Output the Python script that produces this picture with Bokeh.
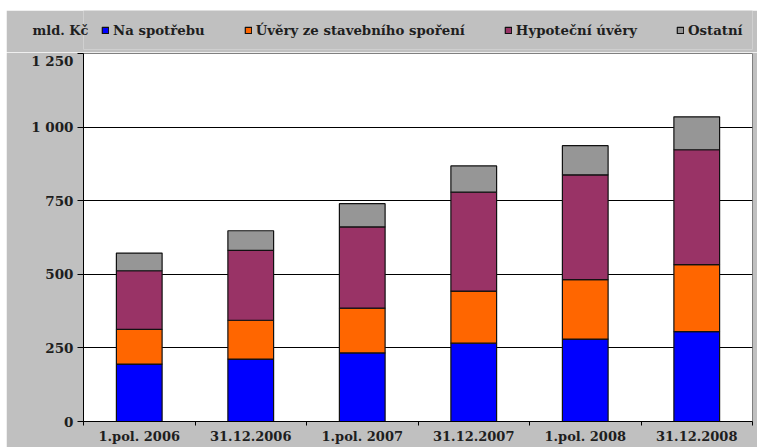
from bokeh.plotting import figure
from bokeh.models import ColumnDataSource, FixedTicker, Spacer, Range1d, Legend, LegendItem, LinearAxis
from bokeh.layouts import column, row
from bokeh.embed import file_html
from bokeh.resources import INLINE

categories = ["1.pol. 2006", "31.12.2006", "1.pol. 2007", "31.12.2007", "1.pol. 2008", "31.12.2008"]
na_spotrebu = [195, 212, 233, 266, 280, 305]
uvery_ss = [118, 132, 152, 177, 202, 228]
hypotecni = [199, 237, 276, 336, 356, 390]
ostatni = [60, 67, 79, 89, 99, 112]
series_names = ["Na spotřebu", "Úvěry ze stavebního spoření", "Hypoteční úvěry", "Ostatní"]
series_colors = ["#0000FF", "#FF6600", "#993366", "#969696"]
y_ticks = [0, 250, 500, 750, 1000, 1250]
y_tick_labels = ["0", "250", "500", "750", "1 000", "1 250"]
unit_label = "mld. Kč"

FONT = "DejaVu Serif"
TXT = "#1e1e1e"
BG = "#C0C0C0"
EDGE = "#111111"
FS = "13px"

xs = [i + 0.5 for i in range(len(categories))]
keys = ["s0", "s1", "s2", "s3"]
src = ColumnDataSource(dict(x=xs, s0=na_spotrebu, s1=uvery_ss, s2=hypotecni, s3=ostatni))

# ---- header strip: unit label + legend ----
hdr = figure(width=751, height=42, output_backend="svg", toolbar_location=None,
             x_axis_type=None, y_axis_type=None,
             x_range=Range1d(0, 1), y_range=Range1d(0, 1),
             min_border_left=77, min_border_right=5, min_border_top=0, min_border_bottom=3)
hdr.background_fill_color = BG
hdr.border_fill_color = BG
hdr.outline_line_color = None
hdr.grid.visible = False

unit_axis = LinearAxis(ticker=FixedTicker(ticks=[0.5]), major_label_overrides={0.5: unit_label},
                       axis_line_color=None, major_tick_line_color=None, minor_tick_line_color=None,
                       major_tick_out=0, major_tick_in=0, major_label_standoff=-5,
                       major_label_text_font=FONT, major_label_text_font_style="bold",
                       major_label_text_font_size=FS, major_label_text_color=TXT)
hdr.add_layout(unit_axis, "left")

key_renderers = hdr.vbar_stack(keys, x="x", width=0.41, source=src, fill_color=series_colors,
                               line_color=EDGE, line_width=1.2)
items = []
for name, r in zip(series_names, key_renderers):
    r.visible = False
    items.append(LegendItem(label=name, renderers=[r]))

lg = Legend(items=items, orientation="horizontal", location=(18, 9),
            background_fill_alpha=0, border_line_alpha=0, padding=0, margin=0,
            spacing=39, glyph_width=8, glyph_height=8, label_standoff=4, label_height=20,
            label_text_font=FONT, label_text_font_style="bold", label_text_font_size="13.3px",
            label_text_color=TXT)
hdr.add_layout(lg)

# ---- main chart ----
p = figure(width=751, height=395, output_backend="svg", toolbar_location=None,
           x_range=Range1d(0, len(categories)), y_range=Range1d(y_ticks[0], y_ticks[-1]),
           min_border_left=77, min_border_right=5, min_border_top=1, min_border_bottom=26)
p.background_fill_color = "white"
p.border_fill_color = BG
p.outline_line_color = "#808080"
p.outline_line_width = 1

p.vbar_stack(keys, x="x", width=0.41, source=src, fill_color=series_colors,
             line_color=EDGE, line_width=1.2)

yax = p.yaxis[0]
yax.ticker = FixedTicker(ticks=y_ticks)
yax.major_label_overrides = {t: l for t, l in zip(y_ticks, y_tick_labels)}
yax.major_tick_out = 6
yax.major_tick_in = 0
yax.minor_tick_line_color = None
yax.axis_line_color = "black"
yax.major_tick_line_color = "black"
yax.major_label_text_font = FONT
yax.major_label_text_font_style = "bold"
yax.major_label_text_font_size = "13.5px"
yax.major_label_text_color = TXT
yax.major_label_standoff = 4

xax = p.xaxis[0]
xax.ticker = FixedTicker(ticks=xs, minor_ticks=list(range(len(categories) + 1)))
xax.major_label_overrides = {x: c for x, c in zip(xs, categories)}
xax.major_tick_out = 0
xax.major_tick_in = 0
xax.minor_tick_out = 4
xax.minor_tick_in = 0
xax.minor_tick_line_color = "black"
xax.axis_line_color = "black"
xax.major_label_text_font = FONT
xax.major_label_text_font_style = "bold"
xax.major_label_text_font_size = FS
xax.major_label_text_color = TXT
xax.major_label_standoff = 3

p.xgrid.grid_line_color = None
p.ygrid.ticker = FixedTicker(ticks=y_ticks[1:-1])
p.ygrid.grid_line_color = "black"
p.ygrid.grid_line_width = 1

layout = column(Spacer(height=10),
                row(Spacer(width=6), column(hdr, p, spacing=0), spacing=0),
                spacing=0)
open("out.html", "w").write(file_html(layout, INLINE))
